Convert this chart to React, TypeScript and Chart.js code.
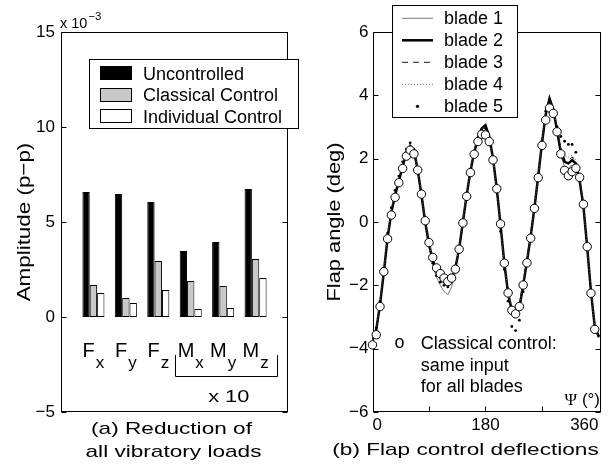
import { useEffect, useRef } from 'react';
import { Chart, registerables } from 'chart.js';

Chart.register(...registerables);

const FONT = '"Liberation Sans", Arial, Helvetica, sans-serif';
const SERIF = '"Liberation Serif", "Times New Roman", serif';

// ---------- Panel (a): vibratory loads (units of 1e-3) ----------
const loadMain = ['F', 'F', 'F', 'M', 'M', 'M'];
const loadSub = ['x', 'y', 'z', 'x', 'y', 'z'];
const uncontrolled = [6.58, 6.47, 6.05, 3.47, 3.95, 6.74];
const classical = [1.68, 1.0, 2.95, 1.89, 1.63, 3.05];
const individual = [1.26, 0.74, 1.42, 0.42, 0.47, 2.05];
const seriesNamesA = ['Uncontrolled', 'Classical Control', 'Individual Control'];
const seriesFillA = ['#000000', '#c8c8c8', '#ffffff'];
const yTicksA = [-5, 0, 5, 10, 15];

// ---------- Panel (b): flap deflections ----------
const bladeAngles = [
  0, 6, 12, 18, 24, 30, 36, 42, 48, 54,
  60, 66, 72, 78, 84, 90, 96, 102, 108, 114,
  120, 126, 132, 138, 144, 150, 156, 162, 168, 174,
  180, 186, 192, 198, 204, 210, 216, 222, 228, 234,
  240, 246, 252, 258, 264, 270, 276, 282, 288, 294,
  300, 306, 312, 318, 324, 330, 336, 342, 348, 354, 360,
];
const blade1 = [
  -3.75, -3.45, -2.65, -1.6, -0.5, 0.3, 0.85, 1.3, 1.75, 2.15,
  2.35, 2.2, 1.6, 0.8, -0.05, -0.8, -1.35, -1.75, -2.0, -2.2,
  -2.3, -2.05, -1.6, -0.9, 0.0, 0.85, 1.6, 2.2, 2.7, 3.0,
  3.1, 2.7, 1.95, 1.0, -0.15, -1.35, -2.3, -2.85, -3.0, -2.75,
  -2.05, -1.3, -0.45, 0.45, 1.45, 2.5, 3.4, 3.95, 3.6, 2.85,
  2.1, 1.75, 1.7, 1.8, 1.75, 1.25, 0.45, -0.85, -2.25, -3.35, -3.65,
];
const blade2 = [
  -3.7, -3.4, -2.6, -1.6, -0.5, 0.3, 0.85, 1.3, 1.75, 2.2,
  2.4, 2.25, 1.65, 0.85, 0.0, -0.7, -1.2, -1.55, -1.75, -1.9,
  -1.95, -1.8, -1.45, -0.85, 0.0, 0.85, 1.6, 2.2, 2.65, 2.95,
  3.05, 2.7, 2.0, 1.05, -0.1, -1.3, -2.25, -2.8, -2.95, -2.7,
  -2.0, -1.25, -0.45, 0.45, 1.45, 2.5, 3.4, 3.9, 3.55, 2.9,
  2.2, 1.9, 1.85, 1.95, 1.85, 1.3, 0.5, -0.8, -2.2, -3.3, -3.6,
];
const blade3 = [
  -3.7, -3.4, -2.55, -1.55, -0.45, 0.35, 0.9, 1.35, 1.8, 2.15,
  2.4, 2.25, 1.7, 0.9, 0.05, -0.65, -1.15, -1.5, -1.7, -1.85,
  -1.9, -1.75, -1.4, -0.8, 0.05, 0.9, 1.65, 2.25, 2.7, 2.95,
  3.0, 2.65, 1.95, 1.0, -0.15, -1.35, -2.3, -2.8, -2.9, -2.6,
  -1.9, -1.15, -0.35, 0.55, 1.55, 2.6, 3.45, 3.85, 3.5, 2.95,
  2.3, 2.0, 1.95, 2.05, 1.9, 1.35, 0.55, -0.75, -2.15, -3.25, -3.55,
];
const blade4 = [
  -3.65, -3.35, -2.5, -1.5, -0.4, 0.4, 0.95, 1.4, 1.85, 2.2,
  2.45, 2.3, 1.7, 0.9, 0.05, -0.65, -1.15, -1.55, -1.8, -1.95,
  -2.0, -1.8, -1.45, -0.8, 0.05, 0.9, 1.65, 2.25, 2.7, 2.95,
  3.0, 2.65, 1.95, 1.0, -0.1, -1.3, -2.2, -2.75, -2.95, -2.65,
  -1.95, -1.2, -0.4, 0.5, 1.5, 2.55, 3.45, 3.9, 3.55, 2.95,
  2.35, 2.1, 2.05, 2.1, 1.95, 1.35, 0.5, -0.8, -2.2, -3.3, -3.6,
];
const blade5 = [
  -3.7, -3.35, -2.5, -1.45, -0.35, 0.45, 1.0, 1.45, 1.9, 2.3,
  2.5, 2.3, 1.65, 0.85, 0.0, -0.75, -1.3, -1.7, -1.9, -2.0,
  -2.05, -1.85, -1.5, -0.9, 0.0, 0.85, 1.6, 2.2, 2.65, 2.9,
  2.95, 2.6, 1.9, 0.95, -0.3, -1.5, -2.5, -3.3, -3.43, -3.1,
  -2.2, -1.35, -0.5, 0.5, 1.5, 2.55, 3.5, 3.85, 3.55, 3.0,
  2.7, 2.55, 2.45, 2.45, 2.2, 1.4, 0.5, -0.85, -2.3, -3.35, -3.6,
];
const circleAngles = [
  0, 6, 12, 18, 24, 30, 36, 42, 48, 54,
  60, 66, 72, 78, 84, 90, 96, 102, 108, 114,
  120, 126, 132, 138, 144, 150, 156, 162, 168, 174,
  180, 186, 192, 198, 204, 210, 216, 222, 228, 234,
  240, 246, 252, 258, 264, 270, 276, 282, 288, 294,
  300, 306, 312, 318, 324, 330, 336, 342, 348, 354,
];
const circleVals = [
  -3.88, -3.56, -2.67, -1.57, -0.53, 0.22, 0.78, 1.24, 1.69, 2.08,
  2.27, 2.15, 1.64, 0.88, 0.04, -0.65, -1.12, -1.45, -1.63, -1.77,
  -1.88, -1.77, -1.49, -0.86, -0.03, 0.81, 1.56, 2.14, 2.54, 2.77,
  2.75, 2.54, 1.96, 1.05, -0.06, -1.3, -2.24, -2.79, -2.9, -2.67,
  -1.99, -1.29, -0.51, 0.43, 1.4, 2.42, 3.22, 3.6, 3.43, 2.85,
  2.15, 1.63, 1.46, 1.59, 1.7, 1.41, 0.56, -0.78, -2.25, -3.39,
];
const bladeNames = ['blade 1', 'blade 2', 'blade 3', 'blade 4', 'blade 5'];
const bladeValues = [blade1, blade2, blade3, blade4, blade5];
const bladeStyles = [
  { color: '#7a7a7a', width: 1, dash: [] as number[], dot: false },
  { color: '#000000', width: 2.5, dash: [] as number[], dot: false },
  { color: '#1a1a1a', width: 1, dash: [6, 5], dot: false },
  { color: '#6a6a6a', width: 1, dash: [1, 2], dot: false },
  { color: '#000000', width: 0, dash: [] as number[], dot: true },
];
const yTicksB = [-6, -4, -2, 0, 2, 4, 6];
const xTickLabelsB = [0, 180, 360];
const xMinorTicksB = [90, 180, 270];

const minus = (v: number) => (v < 0 ? '\u2212' + Math.abs(v) : String(v));

function stretched(ctx: any, text: string, x: number, y: number, font: string, sx: number, rot = 0, align = 'center', baseline = 'middle') {
  ctx.save();
  ctx.translate(x, y);
  if (rot) ctx.rotate(rot);
  ctx.scale(sx, 1);
  ctx.font = font;
  ctx.fillStyle = '#000';
  ctx.textAlign = align;
  ctx.textBaseline = baseline;
  ctx.fillText(text, 0, 0);
  ctx.restore();
}

function drawBox(ctx: any, a: any) {
  const L = Math.round(a.left) + 0.5, R = Math.round(a.right) - 0.5;
  const T = Math.round(a.top) + 0.5, B = Math.round(a.bottom) - 0.5;
  ctx.strokeStyle = '#000';
  ctx.lineWidth = 1;
  ctx.setLineDash([]);
  ctx.strokeRect(L, T, R - L, B - T);
  return { L, R, T, B };
}

const panelA = {
  id: 'panelA',
  beforeDatasetsDraw(chart: any) {
    const { ctx, chartArea: a, scales } = chart;
    const y = scales.y;
    ctx.save();
    const { L, R } = drawBox(ctx, a);
    ctx.beginPath();
    for (const v of yTicksA) {
      const p = Math.round(y.getPixelForValue(v)) + 0.5;
      ctx.moveTo(L, p); ctx.lineTo(L + 5, p);
      ctx.moveTo(R, p); ctx.lineTo(R - 5, p);
    }
    ctx.stroke();
    ctx.restore();
  },
  afterDraw(chart: any) {
    const { ctx, chartArea: a, scales } = chart;
    const x = scales.x;
    ctx.save();
    // legend
    const x0 = a.left + 28, y0 = a.top + 27, w = 209, h = 69;
    ctx.fillStyle = '#fff';
    ctx.fillRect(x0, y0, w, h);
    ctx.strokeStyle = '#000';
    ctx.lineWidth = 1;
    ctx.strokeRect(Math.round(x0) + 0.5, Math.round(y0) + 0.5, w, h);
    seriesNamesA.forEach((name, i) => {
      const cy = y0 + 14 + i * 21.7;
      ctx.fillStyle = seriesFillA[i];
      ctx.fillRect(x0 + 11, Math.round(cy - 7), 32, 14);
      ctx.strokeRect(x0 + 11.5, Math.round(cy - 7) + 0.5, 31, 13);
      ctx.fillStyle = '#000';
      ctx.font = '18px ' + FONT;
      ctx.textAlign = 'left';
      ctx.textBaseline = 'alphabetic';
      ctx.fillText(name, x0 + 54, cy + 6.5);
    });
    // category labels with subscripts
    ctx.fillStyle = '#000';
    ctx.textBaseline = 'alphabetic';
    ctx.textAlign = 'left';
    for (let i = 0; i < loadMain.length; i++) {
      const px = x.getPixelForValue(i + 1);
      ctx.font = '20px ' + FONT;
      const wm = ctx.measureText(loadMain[i]).width;
      ctx.font = '17px ' + FONT;
      const ws = ctx.measureText(loadSub[i]).width;
      const start = px - (wm + ws + 1) / 2;
      ctx.font = '20px ' + FONT;
      ctx.fillText(loadMain[i], start, a.bottom - 55);
      ctx.font = '17px ' + FONT;
      ctx.fillText(loadSub[i], start + wm + 1, a.bottom - 44.5);
    }
    // bracket for moments
    const step = x.getPixelForValue(1) - x.getPixelForValue(0);
    const bl = x.getPixelForValue(4) - 0.48 * step;
    const br = x.getPixelForValue(6) + 0.67 * step;
    const bt = a.bottom - 57, bb = a.bottom - 36;
    ctx.beginPath();
    ctx.moveTo(Math.round(bl) + 0.5, bt);
    ctx.lineTo(Math.round(bl) + 0.5, Math.round(bb) + 0.5);
    ctx.lineTo(Math.round(br) + 0.5, Math.round(bb) + 0.5);
    ctx.lineTo(Math.round(br) + 0.5, bt);
    ctx.stroke();
    stretched(ctx, 'x 10', (bl + br) / 2 + 2.5, a.bottom - 10.5, '17px ' + FONT, 1.28, 0, 'center', 'alphabetic');
    // exponent note
    ctx.font = '14.5px ' + FONT;
    ctx.textAlign = 'left';
    ctx.textBaseline = 'alphabetic';
    ctx.fillText('x 10', a.left - 1, a.top - 4);
    const wx = ctx.measureText('x 10').width;
    ctx.font = '11.5px ' + FONT;
    ctx.fillText('\u22123', a.left + wx, a.top - 12.5);
    // y title
    stretched(ctx, 'Amplitude (p\u2212p)', 24.5, (a.top + a.bottom) / 2, '18.5px ' + FONT, 1.21, -Math.PI / 2);
    // caption
    const cx = (a.left + a.right) / 2 - 3;
    stretched(ctx, '(a) Reduction of', cx, a.bottom + 17.5, '17px ' + FONT, 1.33);
    stretched(ctx, 'all vibratory loads', cx + 2, a.bottom + 40.5, '17px ' + FONT, 1.33);
    ctx.restore();
  },
};

const panelB = {
  id: 'panelB',
  beforeDatasetsDraw(chart: any) {
    const { ctx, chartArea: a, scales } = chart;
    const x = scales.x, y = scales.y;
    ctx.save();
    const { L, R, B } = drawBox(ctx, a);
    ctx.beginPath();
    for (const v of yTicksB) {
      const p = Math.round(y.getPixelForValue(v)) + 0.5;
      ctx.moveTo(L, p); ctx.lineTo(L + 5, p);
      ctx.moveTo(R, p); ctx.lineTo(R - 5, p);
    }
    for (const v of xMinorTicksB) {
      const p = Math.round(x.getPixelForValue(v)) + 0.5;
      ctx.moveTo(p, B); ctx.lineTo(p, B - 5);
    }
    ctx.stroke();
    ctx.restore();
  },
  afterDraw(chart: any) {
    const { ctx, chartArea: a } = chart;
    ctx.save();
    // legend
    const x0 = a.left + 19.5, y0 = a.top - 27, w = 125, h = 112;
    ctx.fillStyle = '#fff';
    ctx.fillRect(x0, y0, w, h);
    ctx.strokeStyle = '#000';
    ctx.lineWidth = 1;
    ctx.strokeRect(Math.round(x0) + 0.5, Math.round(y0) + 0.5, w, h);
    bladeNames.forEach((name, i) => {
      const cy = y0 + 13.3 + 22 * i;
      const st = bladeStyles[i];
      if (st.dot) {
        ctx.fillStyle = '#000';
        ctx.beginPath();
        ctx.arc(x0 + 25.5, cy, 1.6, 0, Math.PI * 2);
        ctx.fill();
      } else {
        ctx.save();
        ctx.strokeStyle = st.color;
        ctx.lineWidth = st.width;
        ctx.setLineDash(st.dash);
        ctx.beginPath();
        ctx.moveTo(x0 + 10, cy);
        ctx.lineTo(x0 + 41, cy);
        ctx.stroke();
        ctx.restore();
      }
      ctx.fillStyle = '#000';
      ctx.font = '18px ' + FONT;
      ctx.textAlign = 'left';
      ctx.textBaseline = 'alphabetic';
      ctx.fillText(name, x0 + 52, cy + 6);
    });
    // annotation
    ctx.fillStyle = '#000';
    ctx.font = '18px ' + FONT;
    ctx.textAlign = 'center';
    ctx.fillText('o', a.left + 27, a.bottom - 64);
    ctx.textAlign = 'left';
    ctx.fillText('Classical control:', a.left + 48.2, a.bottom - 62.7);
    ctx.fillText('same input', a.left + 48.2, a.bottom - 41.2);
    ctx.fillText('for all blades', a.left + 48.2, a.bottom - 19.7);
    // axis symbol
    ctx.textAlign = 'right';
    ctx.font = '17px ' + FONT;
    const tail = ' (\u00B0)';
    ctx.fillText(tail, a.right - 1, a.bottom - 7.5);
    const wt = ctx.measureText(tail).width;
    ctx.font = '17px ' + SERIF;
    ctx.fillText('\u03A8', a.right - 1 - wt, a.bottom - 7.5);
    // y title
    stretched(ctx, 'Flap angle (deg)', 27, (a.top + a.bottom) / 2, '18.5px ' + FONT, 1.18, -Math.PI / 2);
    // caption
    stretched(ctx, '(b) Flap control deflections', a.left + 93, a.bottom + 38, '17px ' + FONT, 1.33);
    ctx.restore();
  },
};

export default function App() {
  const leftRef = useRef<HTMLCanvasElement>(null);
  const rightRef = useRef<HTMLCanvasElement>(null);

  useEffect(() => {
    const tickFont = { family: FONT, size: 17 };
    const barDs = (label: string, vals: number[], fill: string) => ({
      label,
      data: [null, ...vals, null],
      backgroundColor: fill,
      borderColor: '#000',
      borderWidth: 1,
      borderSkipped: false,
      categoryPercentage: 0.68,
      barPercentage: 1,
    });
    const left = new Chart(leftRef.current as HTMLCanvasElement, {
      type: 'bar',
      data: {
        labels: ['', ...loadMain.map((m, i) => m + loadSub[i]), ''],
        datasets: [
          barDs(seriesNamesA[0], uncontrolled, seriesFillA[0]),
          barDs(seriesNamesA[1], classical, seriesFillA[1]),
          barDs(seriesNamesA[2], individual, seriesFillA[2]),
        ] as any,
      },
      options: {
        responsive: false,
        animation: false,
        layout: { padding: { left: 0, top: 32, right: 20, bottom: 0 } },
        plugins: { legend: { display: false }, tooltip: { enabled: false } },
        scales: {
          x: {
            type: 'category',
            offset: false,
            grid: { display: false, drawTicks: false },
            border: { display: false },
            ticks: { display: false },
            afterFit: (s: any) => { s.height = 52; },
          },
          y: {
            min: -5,
            max: 15,
            afterBuildTicks: (s: any) => { s.ticks = yTicksA.map((v) => ({ value: v })); },
            ticks: { padding: 6, font: tickFont, color: '#000', callback: (v: any) => minus(Number(v)) },
            grid: { display: false, drawTicks: false },
            border: { display: false },
            afterFit: (s: any) => { s.width = 61; },
          },
        },
      } as any,
      plugins: [panelA],
    });

    const pts = (xs: number[], ys: number[]) => xs.map((v, i) => ({ x: v, y: ys[i] }));
    const bladeOrder = [5, 4, 2, 3, 1];
    const lineSets: any[] = bladeNames.map((name, i) => {
      const st = bladeStyles[i];
      return {
        label: name,
        data: pts(bladeAngles, bladeValues[i]),
        borderColor: st.color,
        borderWidth: st.width,
        borderDash: st.dash,
        showLine: !st.dot,
        pointRadius: st.dot ? 1.4 : 0,
        pointHoverRadius: 0,
        pointBackgroundColor: '#000',
        pointBorderWidth: 0,
        tension: 0,
        fill: false,
        order: bladeOrder[i],
      };
    });
    lineSets.push({
      label: 'Classical control',
      data: pts(circleAngles, circleVals),
      showLine: false,
      pointRadius: 4.2,
      pointHoverRadius: 4.2,
      pointBackgroundColor: '#fff',
      pointBorderColor: '#000',
      pointBorderWidth: 1,
      clip: false,
      order: 0,
    });
    const right = new Chart(rightRef.current as HTMLCanvasElement, {
      type: 'line',
      data: { datasets: lineSets },
      options: {
        responsive: false,
        animation: false,
        layout: { padding: { left: 0, top: 32, right: 15, bottom: 0 } },
        plugins: { legend: { display: false }, tooltip: { enabled: false } },
        scales: {
          x: {
            type: 'linear',
            min: 0,
            max: 364,
            afterBuildTicks: (s: any) => { s.ticks = xTickLabelsB.map((v) => ({ value: v })); },
            ticks: { padding: 3, align: 'inner', maxRotation: 0, autoSkip: false, font: tickFont, color: '#000', callback: (v: any) => String(v) },
            grid: { display: false, drawTicks: false },
            border: { display: false },
            afterFit: (s: any) => { s.height = 52; },
          },
          y: {
            min: -6,
            max: 6,
            afterBuildTicks: (s: any) => { s.ticks = yTicksB.map((v) => ({ value: v })); },
            ticks: { padding: 4, font: tickFont, color: '#000', callback: (v: any) => minus(Number(v)) },
            grid: { display: false, drawTicks: false },
            border: { display: false },
            afterFit: (s: any) => { s.width = 64.5; },
          },
        },
      } as any,
      plugins: [panelB],
    });

    return () => {
      left.destroy();
      right.destroy();
    };
  }, []);

  return (
    <div style={{ position: 'absolute', left: 0, top: 0, width: 616, height: 464, background: '#fff' }}>
      <canvas ref={leftRef} width={308} height={464} style={{ position: 'absolute', left: 0, top: 0 }} />
      <canvas ref={rightRef} width={308} height={464} style={{ position: 'absolute', left: 308, top: 0 }} />
    </div>
  );
}
